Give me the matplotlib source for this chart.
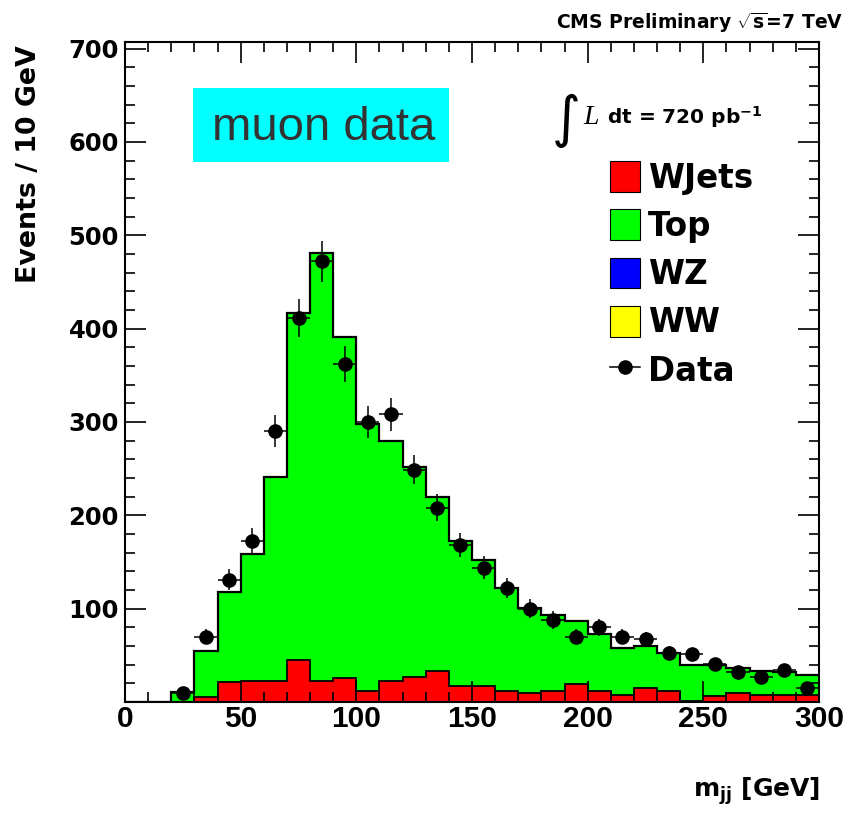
import numpy as np
import matplotlib
matplotlib.use("Agg")
import matplotlib.pyplot as plt
from matplotlib.patches import Rectangle, Patch
from matplotlib.lines import Line2D

plt.rcParams['font.family'] = ['DejaVu Sans']
plt.rcParams['mathtext.fontset'] = 'custom'
plt.rcParams['mathtext.rm'] = 'DejaVu Sans:bold'
plt.rcParams['mathtext.bf'] = 'DejaVu Sans:bold'
plt.rcParams['mathtext.it'] = 'DejaVu Sans:bold'

# ---------------- data ----------------
bin_edges = list(range(0, 310, 10))
# total stack height (WZ + WW + WJets + Top) per 10 GeV bin
stack_total = [0, 0, 10.7, 54.7, 118, 158.6, 241.5, 416.6, 481, 391.5,
               298, 280, 252, 220, 172, 152, 122, 101, 93, 87,
               73, 57.5, 59.5, 53, 40, 39.7, 36.8, 33, 32, 29]
wjets = [0, 0, 0, 4, 20, 21, 21, 44, 21, 24.5,
         11, 21, 26, 32, 16, 16, 11, 9, 11, 18,
         11, 6, 14, 11, 0, 5, 8.5, 6.7, 6.7, 6.7]
wz = [0, 0, 0, 0.5, 0.5, 0.5, 0.5, 0.5, 0.5, 0.5,
      0.5, 0.5, 0.5, 0.5, 0.5, 0.5, 0.5, 0.5, 0.5, 0.5,
      0.5, 0.5, 0.5, 0.5, 0.5, 0.5, 0.5, 0.5, 0.5, 0.5]
ww = [0, 0, 0, 0.6, 0.6, 0.6, 0.6, 0.6, 0.6, 0.6,
      0.6, 0.6, 0.6, 0.6, 0.6, 0.6, 0.6, 0.6, 0.6, 0.6,
      0.6, 0.6, 0.6, 0.6, 0.6, 0.6, 0.6, 0.6, 0.6, 0.6]
data_x = [25, 35, 45, 55, 65, 75, 85, 95, 105, 115, 125, 135, 145, 155,
          165, 175, 185, 195, 205, 215, 225, 235, 245, 255, 265, 275, 285, 295]
data_y = [10, 70, 131, 173, 290, 411, 472, 362, 300, 308, 249, 208, 168, 144,
          122, 100, 88, 70, 80, 70, 67, 53, 51, 41, 32, 27, 34, 15]
legend_labels = ['WJets', 'Top', 'WZ', 'WW', 'Data']
lumi_text = r'dt = 720 pb$^{\mathbf{-1}}$'

# ---------------- derived ----------------
edges = np.array(bin_edges, dtype=float)
tot = np.array(stack_total)
wj = np.array(wjets)
wzv = np.array(wz)
wwv = np.array(ww)
top = np.clip(tot - wj - wzv - wwv, 0, None)

lvl0 = np.zeros_like(tot)
lvl1 = lvl0 + wzv
lvl2 = lvl1 + wwv
lvl3 = lvl2 + wj
lvl4 = lvl3 + top

C_RED, C_GREEN, C_BLUE, C_YEL = '#ff0000', '#00ff00', '#0000ff', '#ffff00'

fig = plt.figure(figsize=(8.5, 8.14), dpi=100)
W, H = 850, 814
ax_l, ax_r, ax_t, ax_b = 125, 819, 42, 702
ax = fig.add_axes([ax_l / W, 1 - ax_b / H, (ax_r - ax_l) / W, (ax_b - ax_t) / H])

# stacked fills (bottom to top)
ax.stairs(lvl4, edges, baseline=lvl3, fill=True, color=C_GREEN, lw=0)
ax.stairs(lvl3, edges, baseline=lvl2, fill=True, color=C_RED, lw=0)
ax.stairs(lvl2, edges, baseline=lvl1, fill=True, color=C_YEL, lw=0)
ax.stairs(lvl1, edges, baseline=lvl0, fill=True, color=C_BLUE, lw=0)
# outlines
ax.stairs(lvl4, edges, baseline=None, color='black', lw=1.6)
ax.stairs(lvl3, edges, baseline=None, color='black', lw=1.3)
ax.stairs(lvl1, edges, baseline=None, color=C_BLUE, lw=1.2)

# data with Poisson errors
dy = np.sqrt(np.array(data_y, dtype=float))
ax.errorbar(data_x, data_y, yerr=dy, xerr=5, fmt='o', color='black',
            ms=9.5, elinewidth=1.1, capsize=0, zorder=5)

ax.set_xlim(0, 300)
ax.set_ylim(0, 707)
ax.set_xticks(np.arange(0, 301, 50))
ax.set_xticks(np.arange(0, 301, 10), minor=True)
ax.set_yticks(np.arange(100, 701, 100))
ax.set_yticks(np.arange(0, 701, 20), minor=True)
ax.tick_params(which='both', direction='in', top=True, right=True, width=1.2)
ax.tick_params(which='major', length=15)
ax.tick_params(which='minor', length=7.5)
ax.tick_params(axis='x', which='major', pad=2.5)
ax.tick_params(axis='y', which='major', pad=4.5)
for lab in ax.get_xticklabels():
    lab.set_fontsize(21.5)
    lab.set_fontweight('bold')
    lab.set_family('Liberation Sans')
for lab in ax.get_yticklabels():
    lab.set_fontsize(17.5)
    lab.set_fontweight('bold')
for sp in ax.spines.values():
    sp.set_linewidth(1.5)

# legend
handles = [Patch(facecolor=C_RED, edgecolor='black', lw=0.8),
           Patch(facecolor=C_GREEN, edgecolor='black', lw=0.8),
           Patch(facecolor=C_BLUE, edgecolor='black', lw=0.8),
           Patch(facecolor=C_YEL, edgecolor='black', lw=0.8),
           Line2D([0], [0], color='black', marker='o', ms=9.5, lw=1.1)]
leg = ax.legend(handles, legend_labels, loc='upper left',
                bbox_to_anchor=((610 - ax_l) / (ax_r - ax_l), (ax_b - 161) / (ax_b - ax_t)),
                frameon=False, borderpad=0, borderaxespad=0,
                prop={'size': 23.5, 'weight': 'bold'},
                handlelength=0.92, handleheight=1.08, handletextpad=0.25,
                labelspacing=0.45)

# muon data box
bx0, bx1, by0, by1 = 193, 449, 88, 162
ax.add_patch(Rectangle(((bx0 - ax_l) / (ax_r - ax_l), (ax_b - by1) / (ax_b - ax_t)),
                       (bx1 - bx0) / (ax_r - ax_l), (by1 - by0) / (ax_b - ax_t),
                       transform=ax.transAxes, facecolor='#00ffff', edgecolor='none', zorder=6))
ax.text((324 - ax_l) / (ax_r - ax_l), (ax_b - 140) / (ax_b - ax_t), 'muon data',
        transform=ax.transAxes, ha='center', va='baseline', fontsize=34,
        color='#333333', family='Liberation Sans', zorder=7)

# luminosity
fig.text(566 / W, 1 - 121 / H, '\u222b', fontsize=40, ha='center', va='center',
         family='DejaVu Sans')
fig.text(583 / W, 1 - 124 / H, 'L', fontsize=20, ha='left', va='baseline',
         family='Liberation Serif', style='italic')
fig.text(607 / W, 1 - 124 / H, lumi_text, fontsize=14.5, fontweight='bold',
         ha='left', va='baseline')

# title
fig.text(843 / W, 1 - 29 / H, r'CMS Preliminary $\sqrt{s}$=7 TeV', fontsize=13.5,
         fontweight='bold', ha='right', va='baseline')

# axis labels
fig.text(820 / W, 1 - 797 / H, r'm$_{\mathbf{jj}}$ [GeV]', fontsize=18,
         fontweight='bold', ha='right', va='baseline')
fig.text(29 / W, 1 - 45 / H, 'Events / 10 GeV', fontsize=19.3, fontweight='bold',
         rotation=90, ha='center', va='top')

fig.savefig('out.png', dpi=100)
